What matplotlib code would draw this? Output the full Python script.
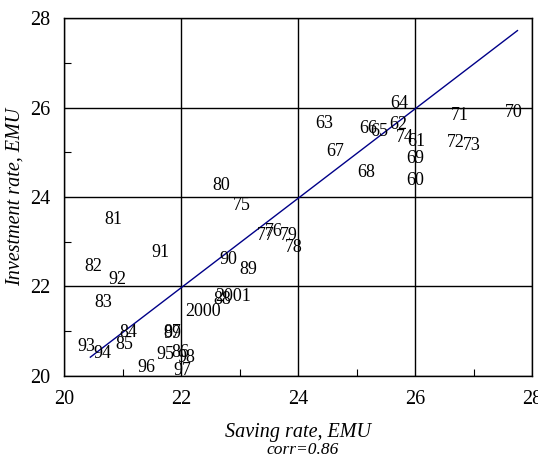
import numpy as np
import matplotlib.pyplot as plt
from matplotlib.ticker import MultipleLocator

# year labels with (saving, investment) positions
years = ['60', '61', '62', '63', '64', '65', '66', '67', '68', '69',
         '70', '71', '72', '73', '74', '75', '76', '77', '78', '79',
         '80', '81', '82', '83', '84', '85', '86', '87', '88', '89',
         '90', '91', '92', '93', '94', '95', '96', '97', '98', '99',
         '2000', '2001']
saving = [26.00, 26.02, 25.71, 24.44, 25.73, 25.38, 25.20, 24.63, 25.16, 26.00,
          27.68, 26.77, 26.70, 26.97, 25.83, 23.04, 23.59, 23.44, 23.93, 23.85,
          22.68, 20.84, 20.50, 20.67, 21.10, 21.03, 21.98, 21.85, 22.70, 23.15,
          22.80, 21.64, 20.92, 20.38, 20.65, 21.73, 21.40, 22.03, 22.09, 21.85,
          22.38, 22.89]
investment = [24.36, 25.25, 25.61, 25.65, 26.10, 25.47, 25.54, 25.01, 24.54, 24.87,
              25.90, 25.83, 25.21, 25.16, 25.32, 23.82, 23.22, 23.13, 22.88, 23.15,
              24.25, 23.49, 22.44, 21.65, 20.97, 20.70, 20.53, 20.97, 21.70, 22.37,
              22.61, 22.75, 22.15, 20.65, 20.50, 20.47, 20.20, 20.13, 20.42, 20.95,
              21.43, 21.78]

# fitted line end points
fit_x = [20.45, 27.75]
fit_y = [20.42, 27.72]

plt.rcParams['font.family'] = 'Liberation Serif'

fig = plt.figure(figsize=(5.38, 4.63), dpi=100)
ax = fig.add_axes([0.119, 0.188, 0.870, 0.773])

ax.set_xlim(20, 28)
ax.set_ylim(20, 28)

ax.xaxis.set_major_locator(MultipleLocator(2))
ax.yaxis.set_major_locator(MultipleLocator(2))
ax.xaxis.set_minor_locator(MultipleLocator(1))
ax.yaxis.set_minor_locator(MultipleLocator(1))
ax.grid(True, which='major', color='black', linewidth=1.0)
ax.tick_params(which='both', direction='in', top=False, right=False, labelsize=14.5)
ax.tick_params(which='major', length=0, pad=10)
ax.tick_params(which='minor', length=5, width=0.8)
for s in ax.spines.values():
    s.set_linewidth(1.0)

ax.plot(fit_x, fit_y, color='#000088', linewidth=1.0)

for lab, x, y in zip(years, saving, investment):
    ax.text(x, y, lab, ha='center', va='center', fontsize=13)

ax.set_xlabel('Saving rate, EMU', fontsize=14.5, style='italic', labelpad=10)
ax.set_ylabel('Investment rate, EMU', fontsize=14.5, style='italic', labelpad=4)
fig.text(0.563, 0.028, 'corr=0.86', fontsize=12.5, style='italic',
         ha='center', va='center')

fig.savefig('out.png', dpi=100)
